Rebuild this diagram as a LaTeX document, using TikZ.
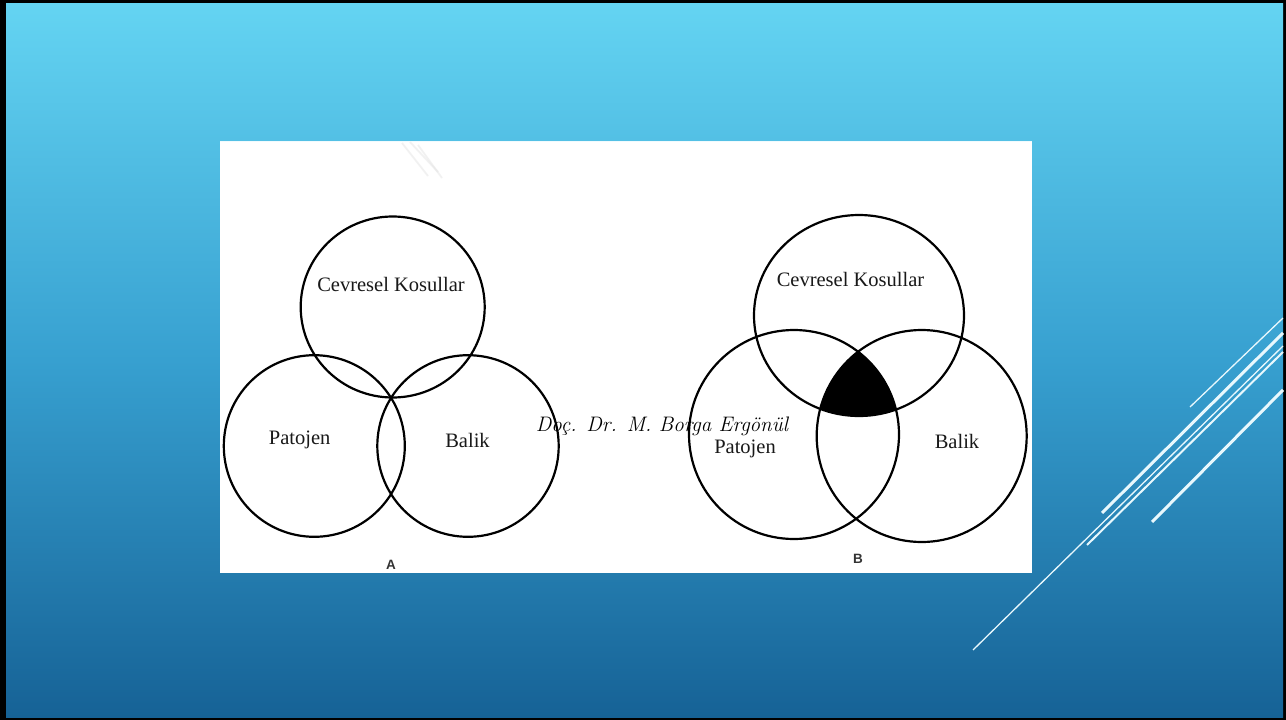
\documentclass[tikz,border=0pt]{standalone}
\usepackage{fontspec}
\newfontfamily\tms{Liberation Serif}
\newfontfamily\sns{Liberation Sans}
\definecolor{bgtop}{RGB}{100,212,242}
\definecolor{bgmid}{RGB}{55,160,208}
\definecolor{bgbot}{RGB}{22,98,150}
\definecolor{deco}{RGB}{232,248,253}
\pgfdeclareverticalshading{slidebg}{100bp}{color(0bp)=(bgbot); color(25bp)=(bgbot); color(50bp)=(bgmid); color(75bp)=(bgtop); color(100bp)=(bgtop)}
\tikzset{
  venn/.style={line width=2.2pt, black},
  lbl/.style={font=\tms\fontsize{20.5}{22}\selectfont, text=black!90, inner sep=0pt},
  panellbl/.style={font=\sns\bfseries\fontsize{13.5}{14}\selectfont, text=black!80, inner sep=0pt},
  thickdeco/.style={deco, line width=3pt},
  thindeco/.style={deco, line width=1.3pt},
  scratch/.style={gray!20, line width=1.8pt, opacity=0.5},
}
\begin{document}
\begin{tikzpicture}[x=1pt,y=-1pt]
\useasboundingbox (0,0) rectangle (1286,720);
% frame and background
\fill[black] (0,0) rectangle (1286,720);
\shade[shading=slidebg] (6,3) rectangle (1283,717);
% decorative lines
\draw[thindeco] (1190,407) -- (1283,318);
\draw[thickdeco] (1102,513) -- (1283,333);
\draw[thindeco] (973,650) -- (1283,346);
\draw[thindeco, line width=2pt] (1087,545) -- (1283,352);
\draw[thickdeco] (1152,522) -- (1283,390);
% white panel
\fill[white] (220,141) rectangle (1032,573);
\draw[deco!60!white, line width=0.8pt] (220,141) -- (1032,141);
% faint scratches
\draw[scratch] (402,143) -- (428,176);
\draw[scratch] (410,142) -- (438,172);
\draw[scratch] (418,145) -- (442,178);
% Diagram A
\draw[venn] (392.7,307) ellipse [x radius=92pt, y radius=90.5pt];
\draw[venn] (314.3,446) ellipse [x radius=90.5pt, y radius=90.8pt];
\draw[venn] (468,446) ellipse [x radius=90.7pt, y radius=90.8pt];
\node[lbl] (aenv) at (391,284) {Cevresel Kosullar};
\node[lbl] (apat) at (299.7,440) {Patojen};
\node[lbl] (abal) at (467.5,440) {Balik};
\node[panellbl] (alab) at (391,565) {A};
% Diagram B
\begin{scope}
  \clip (859,315.5) ellipse [x radius=105pt, y radius=100.5pt];
  \clip (794,434.5) ellipse [x radius=105pt, y radius=104.5pt];
  \fill[black] (921.7,436) ellipse [x radius=105pt, y radius=106pt];
\end{scope}
\draw[venn] (859,315.5) ellipse [x radius=105pt, y radius=100.5pt];
\draw[venn] (794,434.5) ellipse [x radius=105pt, y radius=104.5pt];
\draw[venn] (921.7,436) ellipse [x radius=105pt, y radius=106pt];
\node[lbl] (benv) at (850.5,279) {Cevresel Kosullar};
\node[lbl] (bpat) at (745,449) {Patojen};
\node[lbl] (bbal) at (957,441) {Balik};
\node[panellbl] (blab) at (858,559) {B};
% watermark
\node[inner sep=0pt, font=\itshape\fontsize{21}{22}\selectfont, text=black] (wm) at (662,426) {Doç. Dr. M. Borga Ergönül};
\end{tikzpicture}
\end{document}
